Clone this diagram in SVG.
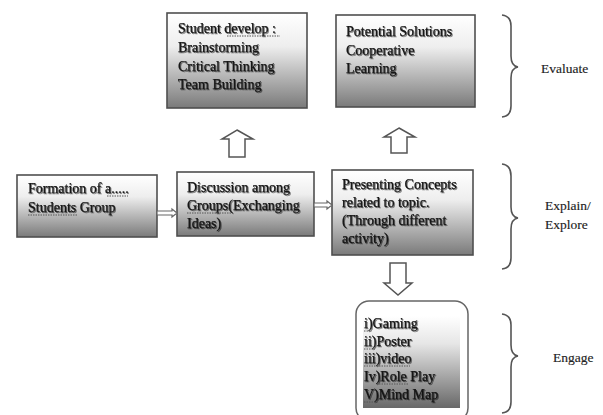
<svg xmlns="http://www.w3.org/2000/svg" width="603" height="415" viewBox="0 0 603 415">
<defs>
<linearGradient id="g" x1="0" y1="0" x2="0" y2="1">
<stop offset="0" stop-color="#ffffff"/>
<stop offset="0.35" stop-color="#eeeeee"/>
<stop offset="1" stop-color="#7a7a7a"/>
</linearGradient>
<linearGradient id="g2" x1="0" y1="0" x2="0" y2="1">
<stop offset="0" stop-color="#ffffff"/>
<stop offset="0.3" stop-color="#e6e6e6"/>
<stop offset="1" stop-color="#686868"/>
</linearGradient>
<filter id="sh" x="-5%" y="-20%" width="110%" height="140%">
<feGaussianBlur in="SourceAlpha" stdDeviation="0.7"/>
<feOffset dx="0.6" dy="0.6" result="b"/>
<feComponentTransfer><feFuncA type="linear" slope="0.5"/></feComponentTransfer>
<feMerge><feMergeNode/><feMergeNode in="SourceGraphic"/></feMerge>
</filter>
</defs>
<style>
.box{fill:url(#g);stroke:#4f4f4f;stroke-width:1.6}
.t{font-family:"Liberation Serif","Times New Roman",serif;font-size:14px;fill:#141414;stroke:#141414;stroke-width:0.25}
.lbl{font-family:"Liberation Serif","Times New Roman",serif;font-size:13.5px;fill:#222;stroke:#222;stroke-width:0.15}
.arr{fill:#fff;stroke:#555;stroke-width:1.5;stroke-linejoin:miter}
.con{fill:#fff;stroke:#666;stroke-width:1.2}
.brace{fill:none;stroke:#555;stroke-width:1.6}
.u{stroke:#555;stroke-width:1;stroke-dasharray:1.5 1;fill:none}
</style>
<rect width="603" height="415" fill="#fff"/>

<g id="student-develop">
<rect class="box" x="167" y="13" width="140" height="95"/>
<g filter="url(#sh)">
<text class="t" x="178" y="33">Student develop :</text>
<text class="t" x="178" y="52">Brainstorming</text>
<text class="t" x="178" y="71">Critical Thinking</text>
<text class="t" x="178" y="89">Team Building</text>
</g>
<path class="u" d="M227 36 H280"/>
</g>

<g id="potential-solutions">
<rect class="box" x="336" y="15" width="139" height="92"/>
<g filter="url(#sh)">
<text class="t" x="346" y="36">Potential Solutions</text>
<text class="t" x="346" y="55">Cooperative</text>
<text class="t" x="346" y="73">Learning</text>
</g>
</g>

<g id="formation">
<rect class="box" x="17" y="175" width="140" height="62"/>
<g filter="url(#sh)">
<text class="t" x="28" y="193">Formation of a.....</text>
<text class="t" x="28" y="212">Students Group</text>
</g>
<path class="u" d="M107 196 H128 M28 215 H77"/>
</g>

<g id="discussion">
<rect class="box" x="177" y="172" width="137" height="64"/>
<g filter="url(#sh)">
<text class="t" x="187" y="192">Discussion among</text>
<text class="t" x="187" y="210">Groups(Exchanging</text>
<text class="t" x="187" y="228">Ideas)</text>
</g>
<path class="u" d="M187 213 H232"/>
</g>

<g id="presenting">
<rect class="box" x="332" y="170" width="141" height="85"/>
<g filter="url(#sh)">
<text class="t" x="342" y="189">Presenting Concepts</text>
<text class="t" x="342" y="207">related to topic.</text>
<text class="t" x="342" y="225">(Through different</text>
<text class="t" x="342" y="243">activity)</text>
</g>
</g>

<g id="activities">
<rect x="356" y="301" width="112" height="120" rx="13" fill="#fff" stroke="#666" stroke-width="1.5"/>
<rect x="363" y="316" width="97" height="92" fill="url(#g2)"/>
<g filter="url(#sh)">
<text class="t" x="364" y="328">i)Gaming</text>
<text class="t" x="364" y="346">ii)Poster</text>
<text class="t" x="364" y="363">iii)video</text>
<text class="t" x="364" y="381">Iv)Role Play</text>
<text class="t" x="364" y="399">V)Mind Map</text>
</g>
<path class="u" d="M364 331 H372 M364 349 H375 M364 366 H410 M379 384 H409 M364 402 H378"/>
</g>

<g id="connectors">
<polygon class="con" points="157,211 172,211 172,209 177,213 172,217 172,215 157,215"/>
<polygon class="con" points="314,203 327,203 327,201 332,205 327,209 327,207 314,207"/>
<polygon class="arr" points="237,130 253,139 245,139 245,157 229,157 229,139 222,139"/>
<polygon class="arr" points="399,128 415,137 407,137 407,153 391,153 391,137 384,137"/>
<polygon class="arr" points="390,263 406,263 406,283 412,283 398,295 384,283 390,283"/>
</g>

<g id="evaluate">
<path class="brace" d="M502 15 Q511 16 511 26 V56 Q511 66 518 67 Q511 68 511 78 V106 Q511 116 502 117"/>
<text class="lbl" x="541" y="73">Evaluate</text>
</g>

<g id="explain-explore">
<path class="brace" d="M502 164 Q511 165 511 176 V207 Q511 217 518 218 Q511 219 511 229 V258 Q511 268 502 269"/>
<text class="lbl" x="545" y="210">Explain/</text>
<text class="lbl" x="545" y="229">Explore</text>
</g>

<g id="engage">
<path class="brace" d="M502 314 Q511 315 511 325 V345 Q511 355 518 356 Q511 357 511 367 V402 Q511 412 502 413"/>
<text class="lbl" x="553" y="362">Engage</text>
</g>
</svg>
